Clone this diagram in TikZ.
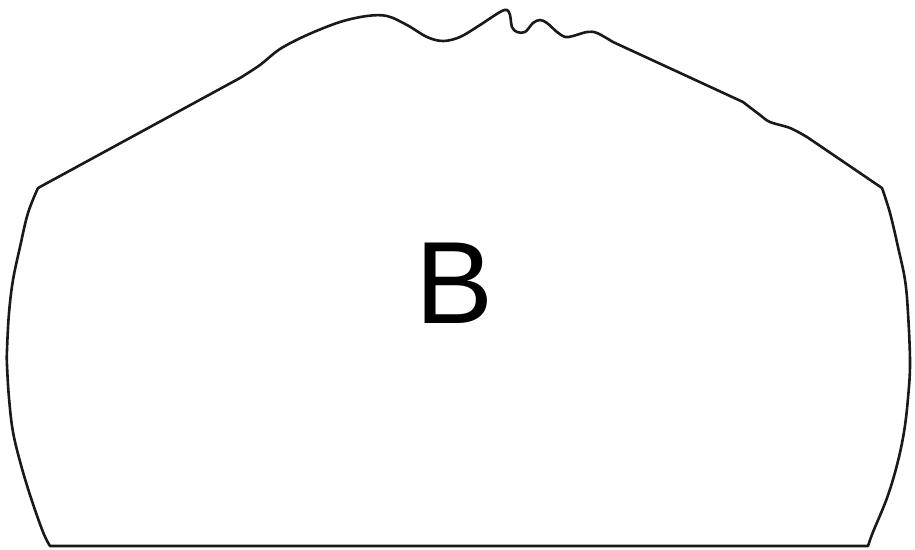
\documentclass[tikz,border=0pt]{standalone}
\usepackage{fontspec}
\setmainfont{Liberation Sans}
\tikzset{outline/.style={draw=black!90, line width=2.6pt, line join=round},
  biglabel/.style={font=\fontsize{117}{117}\selectfont, inner sep=0pt}}
\begin{document}
\begin{tikzpicture}[x=1pt,y=-1pt]
\useasboundingbox (0,0) rectangle (915,549);
\draw[outline] (50,546) -- (868,546)
  -- plot[smooth, tension=0.6] coordinates {(868,546) (873,532) (887,498) (897,465) (904,432) (908,398) (910,363) (908,313) (905,280) (898,247) (890,213) (882,188)}
  -- (807,137)
  -- plot[smooth, tension=0.55] coordinates {(807,137) (790,128) (770,122) (760,115) (743,102)}
  -- (613,42)
  -- plot[smooth, tension=0.55] coordinates {(613,42) (597,33) (587,32) (573,36) (565,37) (557,32) (547,23) (540,20) (533,23) (525,32) (517,32) (512,27) (510,15) (507,10) (500,12) (480,25) (460,37) (443,41) (427,37) (407,25) (387,16) (367,16) (340,22) (307,35) (280,49) (260,65) (240,78)}
  -- (38,188)
  -- plot[smooth, tension=0.6] coordinates {(38,188) (28,213) (20,247) (13,280) (9,313) (7,350) (7,365) (9,398) (13,432) (21,465) (31,498) (43,532) (50,546)}
  -- cycle;
\node[biglabel] (B) at (455,283.5) {B};
\end{tikzpicture}
\end{document}
